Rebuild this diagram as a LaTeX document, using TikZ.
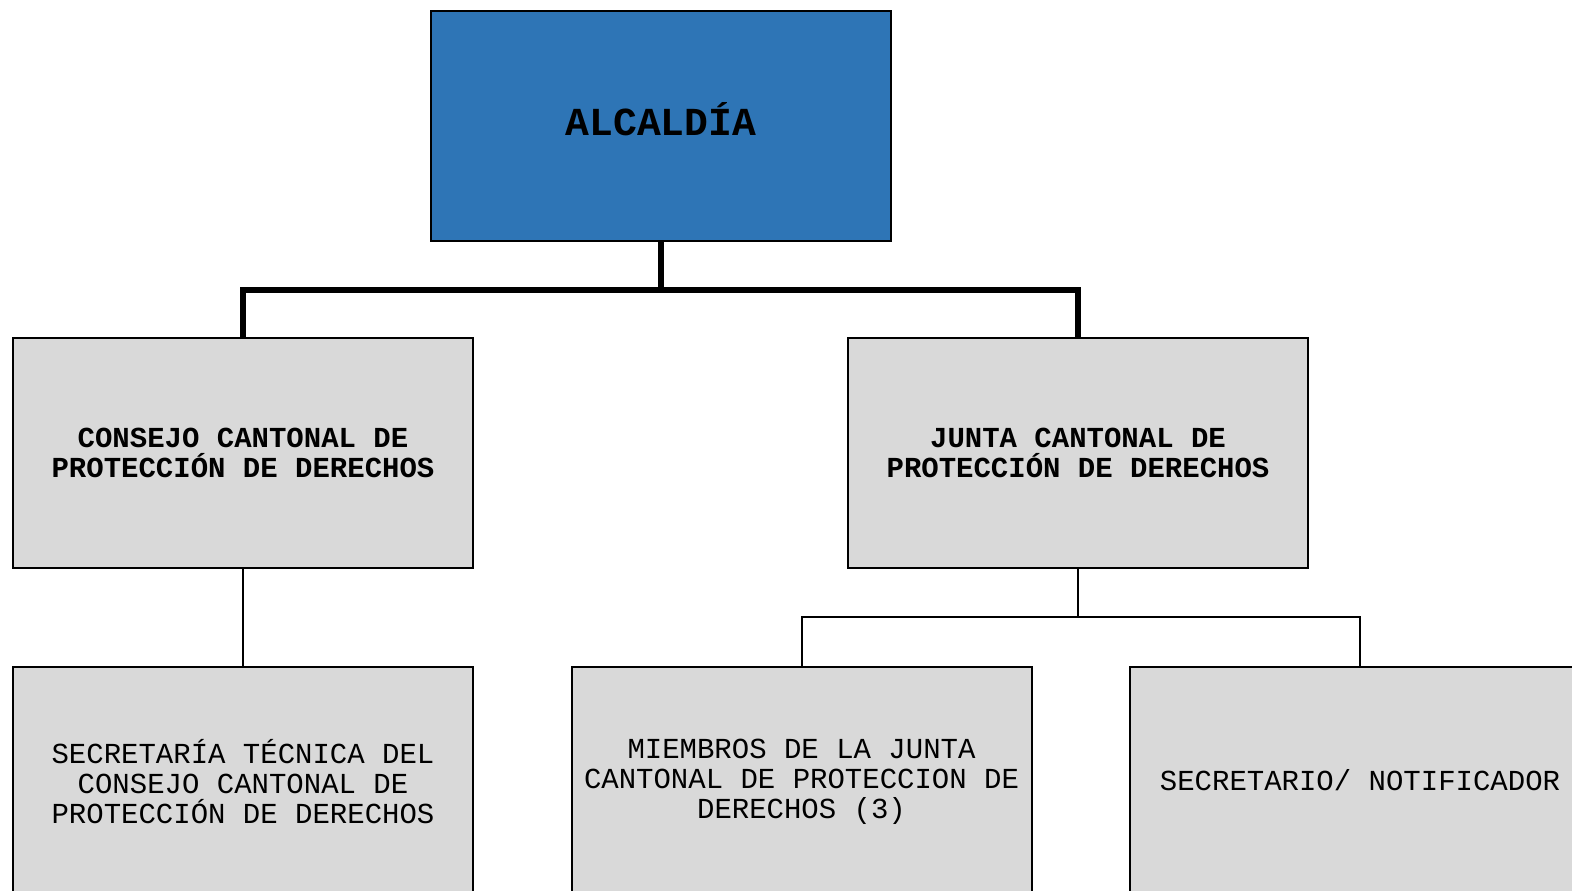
\documentclass[tikz,border=0pt]{standalone}
\usepackage{fontspec}
\setmainfont{Liberation Mono}
\usepackage{xcolor}
\usepackage{tikz}
\usetikzlibrary{calc,positioning}
\definecolor{alcblue}{HTML}{2E75B6}
\definecolor{boxgray}{HTML}{D9D9D9}

\begin{document}
\begin{tikzpicture}[
    node distance=1.93cm,%设置node之间的距离
    unit/.style={
        % The shape:
        rectangle,
        minimum width=9.2cm,
        minimum height=4.6cm,
        align=center,
        % The fill
        line width=0.04cm,
        draw=black,
        fill=boxgray,
        % The fonts
        font=\fontsize{16.5}{17}\selectfont},
    head/.style={unit,fill=alcblue,text height=0.5cm,text depth=0.12cm,
        font=\fontsize{22.6}{24}\selectfont\bfseries},
    trunk/.style={line width=0.12cm},
    branch/.style={line width=0.04cm}]
  \useasboundingbox (0,0) rectangle (31.44,-17.82);%画布大小
  \node (alcaldia) [head] at (13.22,-2.53) {ALCALDÍA};
  \node (consejo) [unit,font=\fontsize{16.5}{17}\selectfont\bfseries] at (4.86,-9.06)
    {CONSEJO CANTONAL DE\\PROTECCIÓN DE DERECHOS};
  \node (junta) [unit,font=\fontsize{16.5}{17}\selectfont\bfseries] at (21.56,-9.06)
    {JUNTA CANTONAL DE\\PROTECCIÓN DE DERECHOS};
  \node (secretaria) [unit,below=of consejo]
    {SECRETARÍA TÉCNICA DEL\\CONSEJO CANTONAL DE\\PROTECCIÓN DE DERECHOS};
  \node (miembros) [unit,right=of secretaria]
    {MIEMBROS DE LA JUNTA\\CANTONAL DE PROTECCION DE\\DERECHOS (3)};
  \node (notificador) [unit,right=of miembros,text height=10.9pt] {SECRETARIO/ NOTIFICADOR};
  %连线
  \draw[trunk] (alcaldia.south) -- ++(0,-0.96) -| (consejo.north);
  \draw[trunk] (alcaldia.south) -- ++(0,-0.96) -| (junta.north);
  \draw[branch] (consejo.south) -- (secretaria.north);
  \draw[branch] (junta.south) -- ++(0,-0.96) -| (miembros.north);
  \draw[branch] (junta.south) -- ++(0,-0.96) -| (notificador.north);
\end{tikzpicture}
\end{document}
